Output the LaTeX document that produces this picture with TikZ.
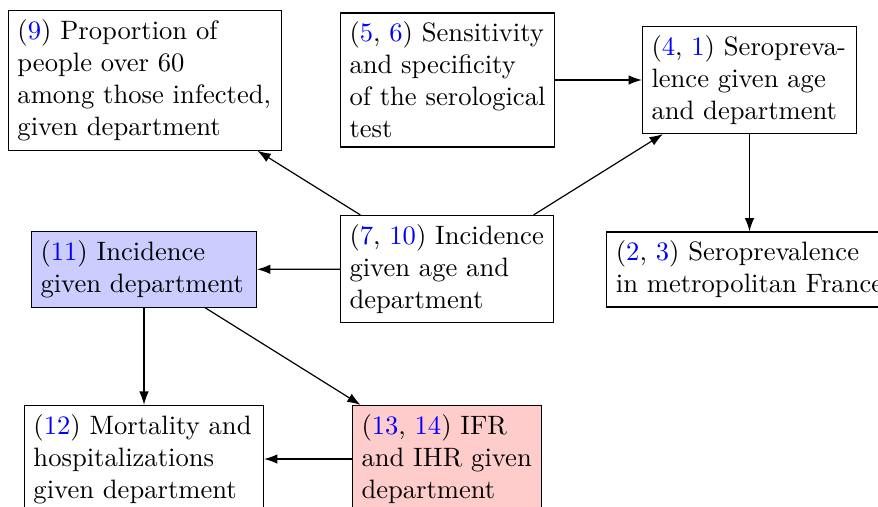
\documentclass[tikz,border=0pt]{standalone}
\usetikzlibrary{arrows.meta}
\begin{document}
\begin{tikzpicture}[x=0.376pt,y=-0.376pt,
  box/.style={draw, align=left, inner sep=3.4pt, line width=0.45pt},
  arr/.style={-{Latex[length=5pt,width=3.6pt]}, line width=0.45pt}]
\newcommand{\rf}[1]{\textcolor{blue}{#1}}
\path[use as bounding box] (0,0) rectangle (878,506);
\clip (0,0) rectangle (878,506);
\node[box, text width=95.9pt] (n9) at (145,80.5) {(\rf{9}) Proportion of\\people over 60\\among those infected,\\given department};
\node[box, text width=73.7pt] (n56) at (447.5,80) {(\rf{5}, \rf{6}) Sensitivity\\and specificity\\of the serological\\test};
\node[box, text width=73.7pt] (n41) at (749.5,80) {(\rf{4}, \rf{1}) Seropreva-\\lence given age\\and department};
\node[box, text width=73.3pt] (n710) at (447,269) {(\rf{7}, \rf{10}) Incidence\\given age and\\department};
\node[box, text width=77.8pt, fill=blue!20] (n11) at (144,269.5) {(\rf{11}) Incidence\\given department};
\node[box] (n23) at (749.5,269.5) {(\rf{2}, \rf{3}) Seroprevalence\\in metropolitan France};
\node[box, text width=83.1pt] (n12) at (144,459) {(\rf{12}) Mortality and\\hospitalizations\\given department};
\node[box, text width=64.3pt, fill=red!20] (n1314) at (447,459) {(\rf{13}, \rf{14}) IFR\\and IHR given\\department};
\draw[arr] (n710) -- (n9);
\draw[arr] (n710) -- (n41);
\draw[arr] (n56) -- (n41);
\draw[arr] (n41.south) -- (n23.north);
\draw[arr] (n710) -- (n11);
\draw[arr] (n11.south) -- (n12.north);
\draw[arr] (n11) -- (n1314);
\draw[arr] (n1314) -- (n12);
\end{tikzpicture}
\end{document}
